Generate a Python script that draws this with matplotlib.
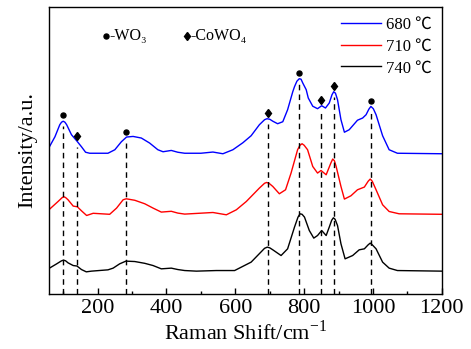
import numpy as np
import matplotlib
matplotlib.use("Agg")
import matplotlib.pyplot as plt

# Raman shift / relative intensity (one list per sample)
x_680 = [60, 76, 90, 95, 100, 105, 110, 124, 139, 153, 165, 177, 230, 250, 269, 284, 303, 327,
         351, 375, 390, 414, 433, 453, 500, 535, 564, 593, 622, 646, 670, 685, 692, 700, 709, 723,
         738, 752, 767, 772, 779, 786, 791, 796, 806, 812, 825, 839, 851, 862, 873, 881, 886, 891,
         897, 907, 917, 931, 955, 970, 980, 988, 994, 1001, 1009, 1028, 1047, 1071, 1200]
y_680 = [7, 17, 29, 31.5, 32.5, 31.5, 29, 19, 13, 7, 1.5, 0.5, 0.5, 4, 12, 16.7, 17.3, 15.7,
         10.7, 4, 2, 3.3, 1.5, 0.5, 0.5, 1.7, 0, 4, 11, 18, 29, 34, 35, 34.5, 32.5, 30,
         32, 44, 62, 67, 72.5, 75, 74.5, 70.7, 64, 55.7, 47.5, 45, 48, 45.7, 50.7, 59, 62, 60.5,
         54, 34, 21.5, 24, 33.5, 35.7, 39, 44.5, 47.3, 45, 39, 18, 4, 0.5, 0]

x_710 = [60, 85, 97, 102, 107, 114, 129, 141, 153, 168, 187, 235, 255, 274, 283, 308, 337, 361,
         385, 414, 433, 453, 535, 574, 603, 632, 670, 685, 691, 698, 709, 728, 746, 762, 781, 788,
         794, 800, 810, 825, 839, 849, 864, 878, 883, 888, 893, 907, 917, 936, 955, 975, 986, 992,
         998, 1009, 1028, 1047, 1076, 1200]
y_710 = [5.5, 13.3, 17.2, 18, 17.2, 15, 8.7, 8, 4, -0.7, 1.5, 0.5, 6.7, 15, 16, 14.5, 11, 6.7,
         2.7, 3.5, 1.7, 0.7, 2.3, 0, 5, 13.3, 26.7, 31.5, 32.3, 31.5, 28.3, 21, 25, 41.7, 65, 69.5,
         71, 69.5, 65, 48.3, 41.7, 44.3, 40, 52, 55.7, 54, 48.3, 28.3, 15.7, 19, 25, 27.7, 33.5, 35.7,
         33.5, 25, 10, 3.3, 1, 0.5]

x_740 = [60, 81, 95, 101, 107, 114, 129, 140, 153, 167, 182, 230, 245, 264, 282, 308, 337, 361,
         385, 414, 433, 453, 487, 545, 598, 646, 685, 693, 700, 709, 733, 752, 772, 782, 788, 794,
         801, 815, 828, 839, 851, 864, 873, 880, 885, 890, 897, 907, 919, 941, 960, 975, 986, 992,
         998, 1009, 1028, 1047, 1071, 1200]
y_740 = [3.2, 7.5, 10.5, 11.2, 10.5, 8.5, 5.8, 5.3, 1.8, -0.5, 0.2, 1.5, 3.2, 7.5, 10.2, 9.8, 8, 5.8,
         2.5, 3.2, 1.8, 0.8, 0.2, 0.8, 0.8, 9.2, 23, 24.2, 23.5, 21.5, 15.8, 22.5, 44.2, 54, 57.5, 57,
         54.2, 40.8, 33.2, 35.8, 40.8, 35.8, 44.2, 51, 53.5, 52, 45.8, 27.5, 12.5, 15.8, 21.5, 22.5, 26.5, 28.2,
         26.5, 22.5, 9.2, 3.2, 0.8, 0.2]

labels = ["680 ℃", "710 ℃", "740 ℃"]
colors = ["#0000ff", "#ff0000", "#000000"]
offsets = [140, 79, 22.5]

# peak assignments
wo3_peaks = [100, 282, 785, 995]
cowo4_peaks = [141, 695, 850, 887]

serif = ["Liberation Serif", "DejaVu Serif"]
plt.rcParams["font.family"] = serif

fig = plt.figure(figsize=(4.71, 3.49), dpi=100)
ax = fig.add_axes([0.105, 0.158, 0.833, 0.823])

series = [(x_680, y_680), (x_710, y_710), (x_740, y_740)]
for (xs, ys), lab, col, off in zip(series, labels, colors, offsets):
    ax.plot(xs, np.array(ys) + off, color=col, lw=1.0, label=lab)

# dashed guide lines + markers above the top spectrum
top_x = np.array(x_680)
top_y = np.array(y_680) + offsets[0]
for peaks, mk, ms in [(wo3_peaks, "o", 3.6), (cowo4_peaks, "d", 4.5)]:
    for p in peaks:
        h = np.interp(p, top_x, top_y)
        ax.plot([p, p], [0, h - 5], color="black", lw=1.0, ls=(0, (4, 3)))
        ax.plot(p, h + 6, marker=mk, color="black", ms=ms, ls="none")

# key for the markers
ax.plot(224, 258, marker="o", color="black", ms=3.6, ls="none")
ax.text(234, 258, "-WO₃", fontsize=11.5, va="center", ha="left",
        family=["Liberation Serif", "DejaVu Sans"])
ax.plot(459, 258, marker="d", color="black", ms=4.5, ls="none")
ax.text(469, 258, "-CoWO₄", fontsize=11.5, va="center", ha="left",
        family=["Liberation Serif", "DejaVu Sans"])

ax.set_xlim(60, 1200)
ax.set_ylim(0, 287)
ax.set_xticks([200, 400, 600, 800, 1000, 1200])
ax.set_xticks(np.arange(100, 1201, 100), minor=True)
ax.set_yticks([])
ax.tick_params(axis="x", which="major", direction="in", length=4, width=1.0,
               labelsize=16, pad=4)
ax.tick_params(axis="x", which="minor", direction="in", length=2, width=1.0)
for s in ax.spines.values():
    s.set_linewidth(1.0)

ax.set_xlabel(r"Raman Shift/cm$^{\mathregular{-1}}$", fontsize=16, labelpad=1)
ax.set_ylabel("Intensity/a.u.", fontsize=16, labelpad=9)

leg = ax.legend(loc="upper right", frameon=False, handlelength=2.4,
                handletextpad=0.3, labelspacing=0.35, borderaxespad=0.2,
                prop={"family": ["Liberation Serif", "Noto Sans CJK SC"], "size": 12})

fig.savefig("out.png", dpi=100)
